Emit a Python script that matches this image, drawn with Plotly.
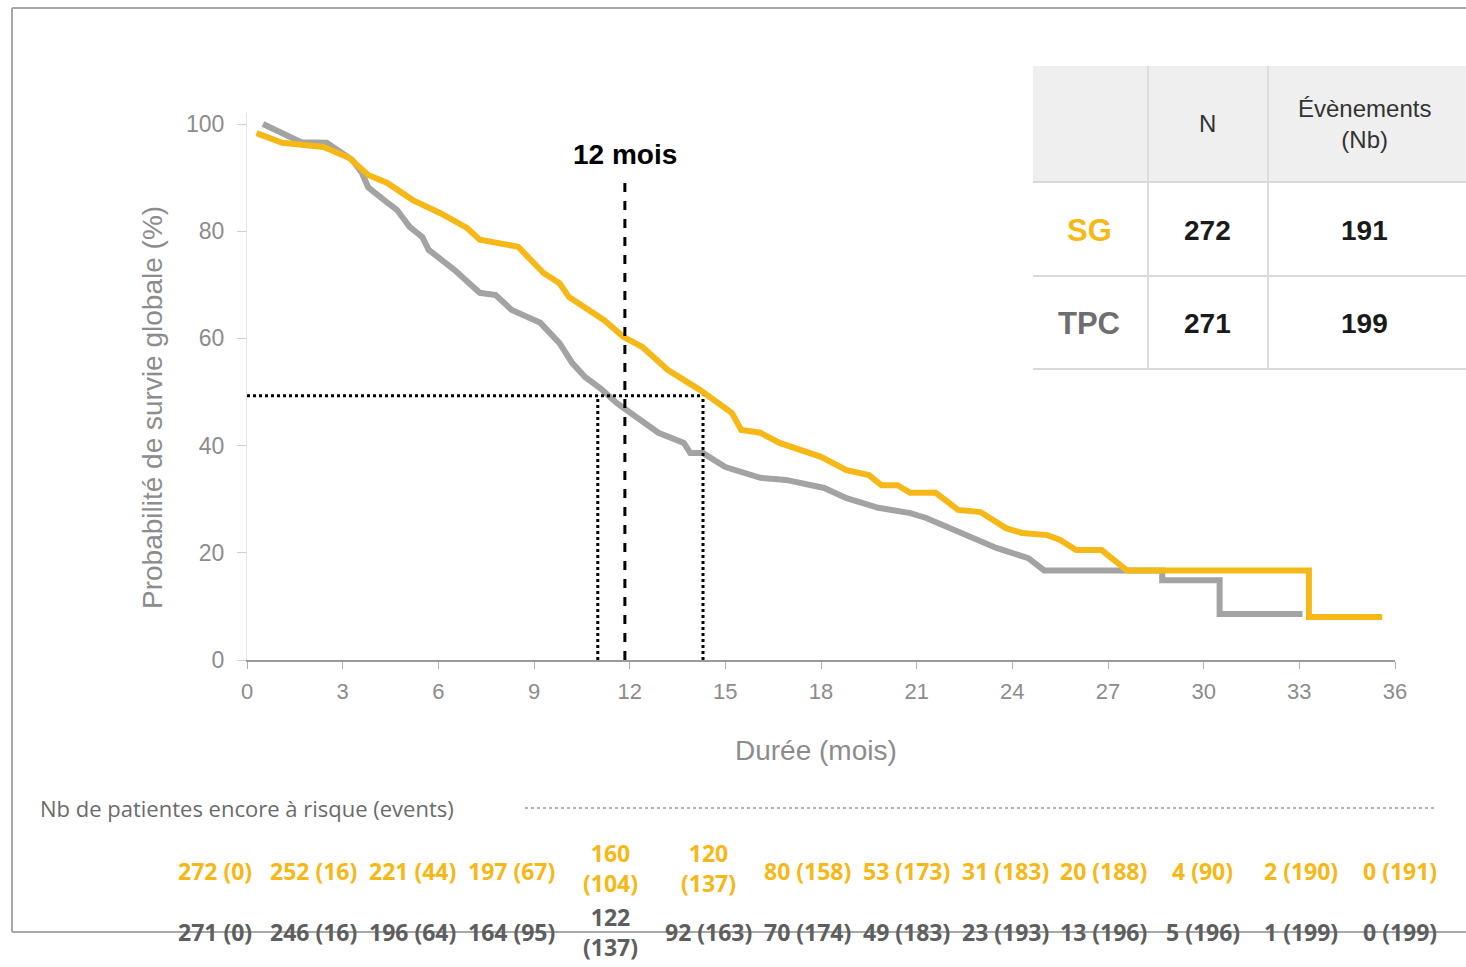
import plotly.graph_objects as go

# ---------------- data ----------------
sg_t = [0.3, 1.1, 2.4, 3.2, 3.8, 4.4, 5.2, 6.05, 6.9, 7.3, 8.5, 9.3, 9.8, 10.1, 11.2, 11.8, 12.4, 13.2,
        14.2, 15.2, 15.5, 16.1, 16.7, 18.0, 18.8, 19.5, 19.9, 20.4, 20.8, 21.6, 22.3, 23.0, 23.8, 24.3,
        25.1, 25.5, 26.0, 26.8, 27.6, 33.3, 33.3, 35.6]
sg_s = [98.3, 96.5, 95.7, 93.7, 90.5, 89.0, 85.8, 83.4, 80.6, 78.4, 77.1, 72.2, 70.3, 67.7, 63.4, 60.3,
        58.4, 54.1, 50.4, 46.1, 42.9, 42.4, 40.5, 37.9, 35.4, 34.5, 32.6, 32.6, 31.2, 31.2, 28.0, 27.6,
        24.6, 23.7, 23.3, 22.4, 20.5, 20.5, 16.7, 16.7, 8.0, 8.0]

tpc_t = [0.5, 1.7, 2.5, 3.3, 3.6, 3.8, 4.3, 4.7, 5.1, 5.5, 5.7, 6.5, 7.3, 7.8, 8.3, 9.2, 9.8, 10.2,
         10.6, 11.1, 11.6, 12.9, 13.7, 13.9, 14.3, 15.0, 16.1, 16.9, 18.1, 18.8, 19.8, 20.8, 21.3, 22.4,
         23.0, 23.5, 24.5, 25.0, 28.7, 28.7, 30.5, 30.5, 33.1]
tpc_s = [100, 96.6, 96.5, 93.3, 90.9, 88.2, 85.8, 84.0, 80.8, 78.9, 76.5, 72.8, 68.5, 68.1, 65.3, 62.9,
         59.1, 55.4, 52.8, 50.6, 47.9, 42.4, 40.5, 38.6, 38.6, 36.0, 34.0, 33.6, 32.1, 30.2, 28.4, 27.4,
         26.5, 23.7, 22.4, 20.9, 19.0, 16.7, 16.7, 14.9, 14.9, 8.6, 8.6]

median_level = 49.3
median_tpc = 11.0
median_sg = 14.3
landmark = 11.85

risk_times = [0, 3, 6, 9, 12, 15, 18, 21, 24, 27, 30, 33, 36]
sg_risk = [272, 252, 221, 197, 160, 120, 80, 53, 31, 20, 4, 2, 0]
sg_events = [0, 16, 44, 67, 104, 137, 158, 173, 183, 188, 90, 190, 191]
tpc_risk = [271, 246, 196, 164, 122, 92, 70, 49, 23, 13, 5, 1, 0]
tpc_events = [0, 16, 64, 95, 137, 163, 174, 183, 193, 196, 196, 199, 199]

table_rows = ["SG", "TPC"]
table_n = [272, 271]
table_ev = [191, 199]

x_ticks = list(range(0, 37, 3))
y_ticks = [0, 20, 40, 60, 80, 100]

# ---------------- style ----------------
W, H = 1466, 967
YEL = "#F6B817"
GRY = "#A3A3A3"
TXT_G = "#8c8c8c"
FONT = "Liberation Sans, Arial, sans-serif"
RFONT = "Open Sans, sans-serif"


def px(x):
    return x / W


def py(y):
    return 1 - y / H


RISK_X0, RISK_X1 = 215, 1400


def risk_x(t):
    return px(RISK_X0 + (t - risk_times[0]) / (risk_times[-1] - risk_times[0]) * (RISK_X1 - RISK_X0))


def note(x, y, text, size, color, family=FONT, xanchor="center", xref="paper", yref="paper", angle=0):
    return dict(x=x, y=y, xref=xref, yref=yref, text=text, showarrow=False, xanchor=xanchor,
                yanchor="middle", textangle=angle, font=dict(family=family, size=size, color=color))


fig = go.Figure()

fig.add_trace(go.Scatter(x=tpc_t, y=tpc_s, mode="lines", line=dict(color=GRY, width=6),
                         showlegend=False, hoverinfo="skip"))
fig.add_trace(go.Scatter(x=sg_t, y=sg_s, mode="lines", line=dict(color=YEL, width=6),
                         showlegend=False, hoverinfo="skip"))

fig.add_trace(go.Scatter(x=[0, median_sg], y=[median_level, median_level], mode="lines",
                         line=dict(color="black", width=3, dash="dot"), showlegend=False, hoverinfo="skip"))
for m in [median_tpc, median_sg]:
    fig.add_trace(go.Scatter(x=[m, m], y=[0, median_level], mode="lines",
                             line=dict(color="black", width=3, dash="dot"), showlegend=False, hoverinfo="skip"))
fig.add_trace(go.Scatter(x=[landmark, landmark], y=[0, 89], mode="lines",
                         line=dict(color="black", width=3, dash="dash"), showlegend=False, hoverinfo="skip"))

annotations = []
annotations.append(note(landmark, 94.3, "<b>12 mois</b>", 28, "black", xref="x", yref="y"))

# axis titles
annotations.append(note(px(152), py(408), "Probabilité de survie globale (%)", 28, TXT_G, angle=-90))
annotations.append(note(px(816), py(750), "Durée (mois)", 28, TXT_G))

# risk table
annotations.append(note(px(38), py(808), "Nb de patientes encore à risque (events)", 22, "#6b6b6b",
                        family=RFONT, xanchor="left"))
wrap_sg = [12, 15]
wrap_tpc = [12]
for t, r, e in zip(risk_times, sg_risk, sg_events):
    sep = "<br>" if t in wrap_sg else " "
    yy = py(868) if t in wrap_sg else py(871)
    annotations.append(note(risk_x(t), yy, f"<b>{r}{sep}({e})</b>", 23, YEL, family=RFONT))
for t, r, e in zip(risk_times, tpc_risk, tpc_events):
    sep = "<br>" if t in wrap_tpc else " "
    annotations.append(note(risk_x(t), py(932), f"<b>{r}{sep}({e})</b>", 23, "#5e5e5e", family=RFONT))

shapes = []
shapes.append(dict(type="rect", xref="paper", yref="paper", x0=px(1033), x1=px(1466), y0=py(182), y1=py(66),
                   fillcolor="#efefef", line=dict(width=0), layer="below"))
for yl in [182, 276, 369]:
    shapes.append(dict(type="line", xref="paper", yref="paper", x0=px(1033), x1=px(1466), y0=py(yl), y1=py(yl),
                       line=dict(color="#d9d9d9", width=2)))
for xl in [1148, 1268]:
    shapes.append(dict(type="line", xref="paper", yref="paper", x0=px(xl), x1=px(xl), y0=py(369), y1=py(66),
                       line=dict(color="#dcdcdc", width=2)))
annotations.append(note(px(1207), py(124), "N", 24, "#333333"))
annotations.append(note(px(1364), py(124), "Évènements<br>(Nb)", 24, "#333333"))
row_y = [231, 323]
row_col = [YEL, "#6e6e6e"]
for name, n, ev, ry, rc in zip(table_rows, table_n, table_ev, row_y, row_col):
    annotations.append(note(px(1089), py(ry), f"<b>{name}</b>", 31, rc))
    annotations.append(note(px(1207), py(ry), f"<b>{n}</b>", 28, "#1a1a1a"))
    annotations.append(note(px(1364), py(ry), f"<b>{ev}</b>", 28, "#1a1a1a"))

shapes.append(dict(type="line", xref="paper", yref="paper", x0=px(525), x1=px(1435), y0=py(808), y1=py(808),
                   line=dict(color="#9a9a9a", width=1.5, dash="dot")))
for (x0, y0, x1, y1) in [(12, 8, 1466, 8), (12, 8, 12, 932), (12, 932, 1466, 932)]:
    shapes.append(dict(type="line", xref="paper", yref="paper", x0=px(x0), x1=px(x1), y0=py(y0), y1=py(y1),
                       line=dict(color="#a8a8a8", width=2), layer="below"))

y_top_px = 660 - 102 * 5.36

fig.update_layout(
    width=W, height=H,
    margin=dict(l=0, r=0, t=0, b=0, pad=0, autoexpand=False),
    paper_bgcolor="white", plot_bgcolor="rgba(0,0,0,0)",
    xaxis=dict(domain=[px(247), px(1395)], range=[0, 36], tickvals=x_ticks, showgrid=False, zeroline=False,
               showline=True, linecolor="#9a9a9a", linewidth=1.5, ticks="outside", ticklen=7, tickcolor="#b0b0b0",
               automargin=False, ticklabelstandoff=4,
               tickfont=dict(family=FONT, size=22, color=TXT_G)),
    yaxis=dict(domain=[py(660), py(y_top_px)], range=[0, 102], tickvals=y_ticks, showgrid=False, zeroline=False,
               showline=True, linecolor="#e6e6e6", linewidth=1, ticks="outside", ticklen=9, tickcolor="#cfcfcf",
               automargin=False, ticklabelstandoff=8,
               tickfont=dict(family=FONT, size=23, color=TXT_G)),
    shapes=shapes,
    annotations=annotations,
)

fig.write_html("out.html", post_script="document.body.style.margin='0';document.body.style.overflow='hidden';",
               config={"displayModeBar": False})
